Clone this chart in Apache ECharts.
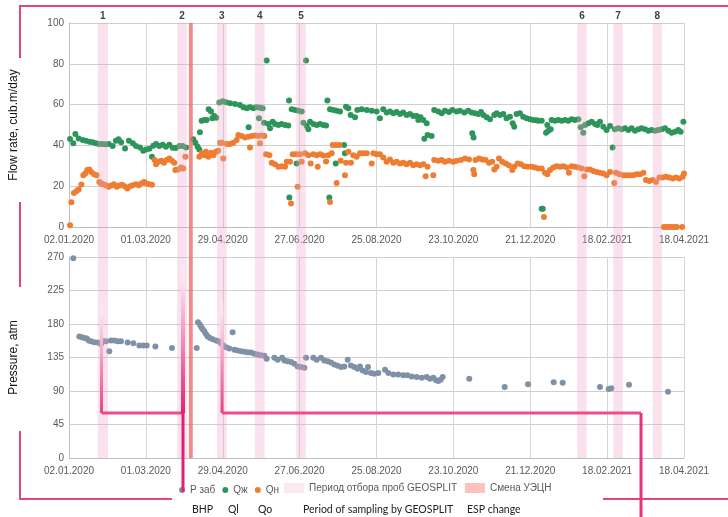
<!DOCTYPE html>
<html><head><meta charset="utf-8">
<script src="https://cdn.jsdelivr.net/npm/echarts@6/dist/echarts.min.js"></script>
<style>html,body{margin:0;padding:0;background:#fff}#c{width:728px;height:517px}</style>
</head><body><div id="c"></div>
<script>
// Day offsets counted from 02.01.2020
const START = Date.UTC(2020, 0, 2);
const DAY_MAX = 472;       // 18.04.2021
const TICK_DAYS = 59;
const flowTicks = { min: 0, max: 100, interval: 20 };
const pressTicks = { min: 0, max: 270, interval: 45 };

// Qж – liquid rate, [day, m3/day]
const qLiquid = [[0.8,43.1],[3.3,41.0],[4.9,45.6],[7.4,43.4],[10.5,42.6],[13,42.3],[15.6,41.8],[18.2,41.5],[20.7,41.0],[23,40.7],[25.5,40.7],[28,40.6],[30.5,40.7],[33.5,39.7],[36,42.3],[38,43.0],[40,41.6],[43,38.5],[46,42.3],[49,41.0],[51.4,39.7],[54.5,39.0],[57,37.4],[59,38.0],[61.7,38.4],[63.7,34.4],[64.7,39.8],[66.8,40.7],[69.3,39.7],[71.9,40.3],[74.4,39.3],[77,40.3],[79.6,38.9],[82,38.7],[84.7,39.7],[87.2,39.7],[89.8,39.0],[95.4,43.0],[97,41.3],[98.7,39.3],[100,38.0],[100.5,46.4],[101.8,52.1],[103.9,52.5],[105.6,52.5],[107.2,57.7],[109,56.6],[110,53.3],[111.5,54.4],[113,53.6],[115.4,61.0],[118,61.6],[120.5,61.2],[123.6,60.7],[127.4,60.3],[131.2,59.8],[133.8,58.7],[136.4,58.2],[137.9,48.9],[138.9,58.7],[141.5,58.2],[144,58.7],[145.8,53.3],[146.6,58.4],[148.6,58.2],[149.7,51.1],[151.7,81.6],[153,50.5],[154.3,48.4],[156.3,51.6],[158.1,50.5],[160.7,50.0],[163.2,50.5],[165.8,50.0],[168.3,49.8],[168.9,62.0],[169.1,14.4],[170.9,57.7],[173.5,57.4],[174.7,31.1],[176,57.0],[178.6,56.6],[179.9,51.1],[181.9,81.6],[182.4,49.5],[183.7,47.9],[185,51.6],[187.5,50.5],[190.1,50.0],[192.7,50.5],[195.2,50.0],[197.3,49.8],[198.3,62.0],[199.8,14.4],[200.3,57.7],[202.9,57.4],[204.7,31.1],[205.4,57.0],[208,56.6],[211.1,40.2],[211.8,36.1],[212.6,59.0],[214.4,58.2],[216.2,54.9],[219.5,53.8],[221.3,57.4],[224.6,57.7],[228.5,57.4],[232.3,57.0],[236.1,56.6],[238.6,53.3],[241.2,57.7],[243.8,56.1],[246.3,56.6],[248.9,55.7],[251.4,56.4],[254,55.4],[256.5,56.1],[259.1,54.9],[261.7,55.4],[264.2,54.4],[266.8,54.4],[268.1,52.5],[269.8,53.8],[271.9,52.5],[272.7,43.3],[274.5,50.8],[275.2,45.1],[278.3,44.6],[280.3,57.4],[283.4,56.6],[286,55.7],[288.5,57.0],[291.6,56.4],[294.2,57.4],[297.5,56.6],[300,57.0],[303.4,56.1],[306.4,57.0],[309,56.1],[309.5,45.9],[310.5,43.9],[311.6,55.7],[314.1,55.4],[316.2,56.4],[318,54.9],[320.5,53.8],[323.1,52.8],[326.4,54.9],[328.2,55.7],[330.7,54.9],[333.3,55.4],[335.8,53.3],[338.4,54.1],[340.5,50.8],[341.7,49.2],[343.5,55.4],[346.1,55.7],[348.6,54.1],[351.2,53.3],[353.8,52.8],[356.3,52.5],[358.8,52.3],[360.2,52.1],[362.8,52.1],[362.8,9.0],[363.6,9.0],[366.1,46.2],[367.1,50.0],[367.9,47.2],[369.7,47.9],[370.4,52.5],[373,52.1],[375.5,52.5],[378.1,52.1],[380.7,52.5],[383.2,52.1],[385.8,52.8],[388.3,52.5],[390.9,52.8],[392.7,48.9],[394.7,46.2],[396,50.0],[398.6,50.8],[401.1,51.6],[403.7,50.5],[405.5,50.0],[407.5,51.6],[410.1,49.2],[412.6,47.5],[415.2,49.5],[417.2,39.0],[419,47.9],[421.6,48.4],[424.1,47.9],[426.7,48.4],[429.3,47.5],[431.8,48.4],[434.4,47.2],[437,47.9],[439.5,48.4],[442.1,47.9],[444.6,47.2],[447.2,47.5],[449.7,47.2],[452.3,47.5],[454.8,47.9],[457.4,48.4],[460,47.2],[462.5,46.2],[465.1,46.7],[467.6,47.5],[469.4,46.7],[471.5,51.6]];

// Qн – oil rate, [day, m3/day]
const qOil = [[0.8,0.8],[1.8,12.1],[3.8,16.7],[5.9,17.7],[7.4,18.4],[9.5,20.8],[11,25.4],[12.5,26.2],[14,27.9],[15.6,28.2],[17.1,27.0],[19.2,25.9],[21.2,25.4],[23.3,22.1],[24.6,21.3],[26.3,21.0],[28.4,20.5],[30.4,19.7],[32.5,20.3],[34.5,21.0],[36.6,19.7],[38.6,20.3],[40.7,20.7],[42.7,20.0],[44.8,18.9],[46.8,20.0],[48.9,20.5],[51.4,21.0],[53.5,20.5],[55.5,21.3],[57.6,22.0],[59.6,21.3],[61.7,21.0],[63.7,20.7],[65.7,32.8],[66.8,30.8],[68.8,32.0],[70.9,32.5],[72.9,31.5],[75,32.8],[77,33.6],[79,32.5],[80.8,31.5],[81.6,27.9],[83.7,28.2],[86,29.2],[87.7,28.7],[89.3,34.4],[100,34.4],[102,36.1],[104,35.2],[105,36.9],[107,34.4],[109,36.4],[110.8,35.2],[112.8,36.9],[114.4,37.4],[115.9,41.3],[117.4,41.3],[118.4,33.6],[121,40.7],[123.6,40.7],[126.1,41.3],[128.7,42.6],[130,45.1],[132.5,44.6],[135.1,43.9],[137.6,44.3],[138.9,39.0],[140.2,44.6],[142.8,44.9],[145.3,44.6],[146.6,41.0],[147.9,44.9],[149.9,44.6],[151.2,35.7],[153.8,35.2],[155.6,31.5],[158.1,30.8],[160.7,29.5],[163.2,29.8],[165.8,29.5],[167.1,32.0],[169.6,32.0],[170.4,11.5],[171.7,35.7],[174.2,35.7],[175.5,19.7],[177.3,35.7],[178.6,32.0],[181.1,36.1],[183.7,35.2],[185.5,31.1],[187.5,35.7],[190.1,35.2],[190.9,29.5],[192.7,35.7],[195.2,35.1],[197.3,32.1],[199,35.2],[200.3,12.3],[201.6,36.1],[202.4,40.2],[204.9,40.2],[205.4,21.6],[207.5,40.2],[208.5,32.5],[211.8,25.4],[212.6,31.5],[214.4,36.9],[216.4,31.5],[218.2,35.2],[220.8,34.4],[223.3,36.1],[225.9,36.1],[228.5,36.1],[232.3,31.1],[233.6,36.1],[236.1,35.7],[238.6,35.7],[241.2,34.1],[243.8,32.0],[246.3,33.1],[248.9,31.5],[251.4,32.0],[254,31.1],[256.5,31.5],[259.1,30.8],[261.7,31.5],[264.2,30.3],[266.8,30.8],[269.3,30.3],[271.9,30.8],[273.7,24.9],[275.2,29.5],[279.6,25.4],[280.3,32.8],[283.4,32.5],[286,32.8],[288.5,32.0],[291.6,32.5],[294.9,32.0],[297.5,32.5],[300.8,32.8],[303.9,33.6],[307,33.1],[310.3,27.9],[311,25.9],[312,32.8],[314.6,33.6],[317.2,33.1],[319.7,32.8],[322.3,31.5],[324.8,32.0],[326.4,28.2],[328.2,29.5],[330,33.6],[332.5,32.0],[335.1,31.1],[337.6,30.3],[340.2,27.9],[341.7,29.5],[344.3,31.1],[346.8,30.8],[349.4,29.8],[352,29.5],[355,29.5],[357.6,29.2],[360.2,28.7],[362.8,28.7],[364.5,4.9],[365.3,26.6],[367.1,25.9],[369.2,27.9],[371.7,29.2],[374.3,29.8],[376.8,29.5],[379.4,29.8],[382,29.2],[383.7,26.6],[385.8,29.8],[388.3,29.5],[390.9,29.2],[393.5,28.7],[395.5,24.9],[397.3,28.2],[399.9,28.2],[402.4,27.5],[405,27.0],[407.5,26.6],[410.1,26.2],[412.6,25.4],[415.2,27.0],[418.5,21.6],[419.8,26.6],[422.4,25.9],[425.4,25.4],[428,25.4],[430.5,25.4],[433.1,25.4],[435.7,25.9],[438.2,25.9],[440.8,26.6],[442.8,23.0],[445.4,22.6],[448,23.0],[450.5,22.1],[453.1,24.3],[455.6,24.3],[458.2,24.6],[460.7,24.3],[463.3,23.8],[465.9,24.3],[468.4,23.8],[471,24.6],[472,26.2],[456.5,0],[458.5,0],[460.5,0],[462.5,0],[464.5,0],[466.5,0],[470.6,0]];

// Р заб – bottom-hole pressure, [day, atm]
const pBottom = [[3.3,268.2],[7.9,163.1],[10,162.2],[11.8,161.3],[13.6,160.4],[15.1,157.7],[16.9,156.8],[19.4,155.5],[22,155.1],[24.6,153.3],[26.3,156.8],[28.4,156.8],[30.9,143.5],[32.2,157.7],[34.8,157.7],[37.3,156.8],[39.9,156.8],[45,155.1],[49.4,154.2],[54,151.1],[57,151.1],[59.6,151.1],[66.3,149.7],[79,147.9],[98,147.9],[99,182.2],[100.5,179.1],[101.6,175.6],[102.6,172.9],[103.9,170.2],[105.1,166.6],[106.4,163.1],[108.2,161.3],[110.3,159.5],[112.8,157.7],[114.9,156.8],[116.7,154.2],[118.4,151.1],[120.5,148.8],[123,147.0],[125.6,168.9],[126.9,145.3],[129.4,144.4],[132,143.5],[134.6,142.6],[137.1,142.2],[139.7,141.7],[142.2,140.0],[144.8,139.0],[147.3,138.1],[149.9,137.3],[151.7,133.2],[157.6,134.6],[160.1,131.9],[163.5,134.6],[165.3,131.0],[167.8,130.1],[170.4,128.8],[172.9,126.5],[175.5,123.0],[178.1,122.1],[180.6,121.2],[181.9,134.6],[187.5,134.6],[190.1,131.9],[193.4,134.6],[195.9,131.0],[198.5,130.1],[201.1,128.3],[203.6,125.7],[206.2,123.9],[208.8,122.1],[211.3,123.0],[213.9,131.9],[216.4,124.3],[219,122.1],[221.5,119.9],[223.3,123.0],[225.4,117.6],[227.9,115.4],[229.5,122.1],[231.8,114.1],[234.3,113.2],[237.4,114.1],[242.5,118.5],[245.1,114.1],[248.9,112.3],[252.7,112.3],[256.6,111.0],[259.7,111.0],[263,109.6],[266.8,108.7],[270.7,107.8],[274.5,108.7],[277,106.5],[279.6,107.8],[281.7,104.3],[283.4,103.4],[285.2,105.2],[286.8,108.7],[307.2,106.5],[334.4,95.4],[352.3,98.9],[372,101.6],[378.9,101.2],[407.5,95.4],[414.2,92.7],[416.2,93.6],[429.8,98.5],[459.7,89.1]];

// GEOSPLIT sampling periods [fromDay, toDay] and their numbers
const sampleBands = [[22,30],[83,90.5],[113.6,121],[142.7,150.2],[174.4,181.7],[390,397.3],[417.7,425],[448,455]];
const sampleLabels = ['1','2','3','4','5','6','7','8'];
// ESP change
const espBands = [[92,95]];

const englishLabels = ['BHP','Ql','Qo','Period of sampling by GEOSPLIT','ESP change'];

function fmtDate(v) {
  const d = new Date(START + Math.round(v) * 86400000);
  const p = n => (n < 10 ? '0' : '') + n;
  return p(d.getUTCDate()) + '.' + p(d.getUTCMonth() + 1) + '.' + d.getUTCFullYear();
}

const FONT = "'Liberation Sans', Arial, sans-serif";
const EN_FONT = "10.5px Lato, 'Open Sans', sans-serif";
const gridColor = '#cfcfcf';
const xAxisBase = {
  type: 'value', min: 0, max: DAY_MAX, interval: TICK_DAYS,
  axisLine: { show: true, lineStyle: { color: '#bfbfbf' } },
  axisTick: { show: false },
  splitLine: { show: true, lineStyle: { color: '#d6d6d6' } },
  axisLabel: { color: '#595959', fontSize: 10, fontFamily: FONT, margin: 8, formatter: fmtDate, showMinLabel: true, showMaxLabel: true }
};
const yAxisBase = {
  type: 'value',
  axisLine: { show: true, lineStyle: { color: '#bfbfbf' } },
  axisTick: { show: false },
  splitLine: { show: true, lineStyle: { color: gridColor } },
  axisLabel: { color: '#595959', fontSize: 10, fontFamily: FONT, margin: 5 },
  nameLocation: 'middle', nameGap: 49,
  nameTextStyle: { color: '#111', fontSize: 12, fontFamily: FONT }
};

const MAG = '#e8327c';
const grad = (y0, y1, c) => new echarts.graphic.LinearGradient(0, y0, 0, y1, [{ offset: 0, color: 'rgba(255,255,255,0)' }, { offset: 0.15, color: '#fbe0ec' }, { offset: 1, color: c }], true);
function seg(pts, stroke, w) {
  return { type: 'polyline', z: 100, silent: true, shape: { points: pts }, style: { stroke: stroke, lineWidth: w, fill: null } };
}
const enX = [192, 228, 258, 303, 467];

const chart = echarts.init(document.getElementById('c'), null, { renderer: 'canvas' });
chart.setOption({
  animation: false,
  backgroundColor: '#fff',
  textStyle: { fontFamily: FONT },
  grid: [
    { left: 69, top: 23, width: 615, height: 204, outerBoundsMode: 'none' },
    { left: 69, top: 257, width: 615, height: 201, outerBoundsMode: 'none' },
    { left: 69, top: 23, width: 615, height: 435, outerBoundsMode: 'none' }
  ],
  xAxis: [
    Object.assign({}, xAxisBase, { gridIndex: 0 }),
    Object.assign({}, xAxisBase, { gridIndex: 1 }),
    { type: 'value', gridIndex: 2, min: 0, max: DAY_MAX, show: false }
  ],
  yAxis: [
    Object.assign({}, yAxisBase, { gridIndex: 0, min: flowTicks.min, max: flowTicks.max, interval: flowTicks.interval, name: 'Flow rate, cub.m/day' }),
    Object.assign({}, yAxisBase, { gridIndex: 1, min: pressTicks.min, max: pressTicks.max, interval: pressTicks.interval, name: 'Pressure, atm' }),
    { type: 'value', gridIndex: 2, min: 0, max: 1, show: false }
  ],
  legend: [
    { left: 179, top: 485, padding: 0, itemWidth: 6, itemHeight: 6, itemGap: 7, icon: 'circle',
      textStyle: { color: '#595959', fontSize: 10, fontFamily: FONT },
      data: ['Р заб', 'Qж', 'Qн'] },
    { left: 284, top: 483, padding: 0, itemWidth: 20, itemHeight: 10, itemGap: 8, icon: 'rect',
      textStyle: { color: '#595959', fontSize: 10, fontFamily: FONT },
      data: ['Период отбора проб GEOSPLIT', 'Смена УЭЦН'] }
  ],
  series: [
    { name: 'Р заб', type: 'scatter', xAxisIndex: 1, yAxisIndex: 1, data: pBottom, symbolSize: 6, itemStyle: { color: '#7f91a6', opacity: 1 } },
    { name: 'Qж', type: 'scatter', xAxisIndex: 0, yAxisIndex: 0, data: qLiquid, symbolSize: 6, itemStyle: { color: '#2e955a', opacity: 1 } },
    { name: 'Qн', type: 'scatter', xAxisIndex: 0, yAxisIndex: 0, data: qOil, symbolSize: 6, itemStyle: { color: '#ee7d31', opacity: 1 } },
    { name: 'Период отбора проб GEOSPLIT', type: 'scatter', xAxisIndex: 2, yAxisIndex: 2, data: [],
      itemStyle: { color: '#fbe3ed' },
      markArea: { silent: true, z: 5,
        itemStyle: { color: 'rgba(236,160,195,0.3)' },
        label: { show: true, position: 'top', distance: 2, color: '#404040', fontWeight: 'bold', fontSize: 10, fontFamily: FONT },
        data: sampleBands.map((b, i) => [{ name: sampleLabels[i], xAxis: b[0] }, { xAxis: b[1] }]) } },
    { name: 'Смена УЭЦН', type: 'scatter', xAxisIndex: 2, yAxisIndex: 2, data: [],
      itemStyle: { color: '#fbb3b0' },
      markArea: { silent: true, z: 5,
        itemStyle: { color: 'rgba(240,105,105,0.78)' },
        label: { show: false },
        data: espBands.map(b => [{ xAxis: b[0] }, { xAxis: b[1] }]) } }
  ],
  graphic: [
    seg([[20, 58], [20, 6], [728, 6]], '#e0457f', 2),
    seg([[20, 202], [20, 287]], '#e0457f', 2),
    seg([[20, 431], [20, 499], [172, 499]], '#e0457f', 2),
    seg([[603, 499], [728, 499]], '#e0457f', 2),
    seg([[101.5, 300], [101.5, 413]], grad(300, 413, '#ea4286'), 3),
    seg([[101.5, 413], [183, 413]], '#ec4c8c', 3),
    seg([[183, 262], [183, 413]], grad(262, 413, '#e3226f'), 4),
    seg([[183, 413], [183, 492]], '#e3226f', 3),
    seg([[222, 299], [222, 413]], grad(299, 413, '#ea4286'), 3),
    seg([[222, 413], [641, 413]], '#ec4c8c', 3),
    seg([[641, 413], [641, 517]], MAG, 3)
  ].concat(englishLabels.map((t, i) => ({ type: 'text', left: enX[i], top: 504, z: 100, style: { text: t, fill: '#222', font: EN_FONT } })))
});
</script>
</body></html>
